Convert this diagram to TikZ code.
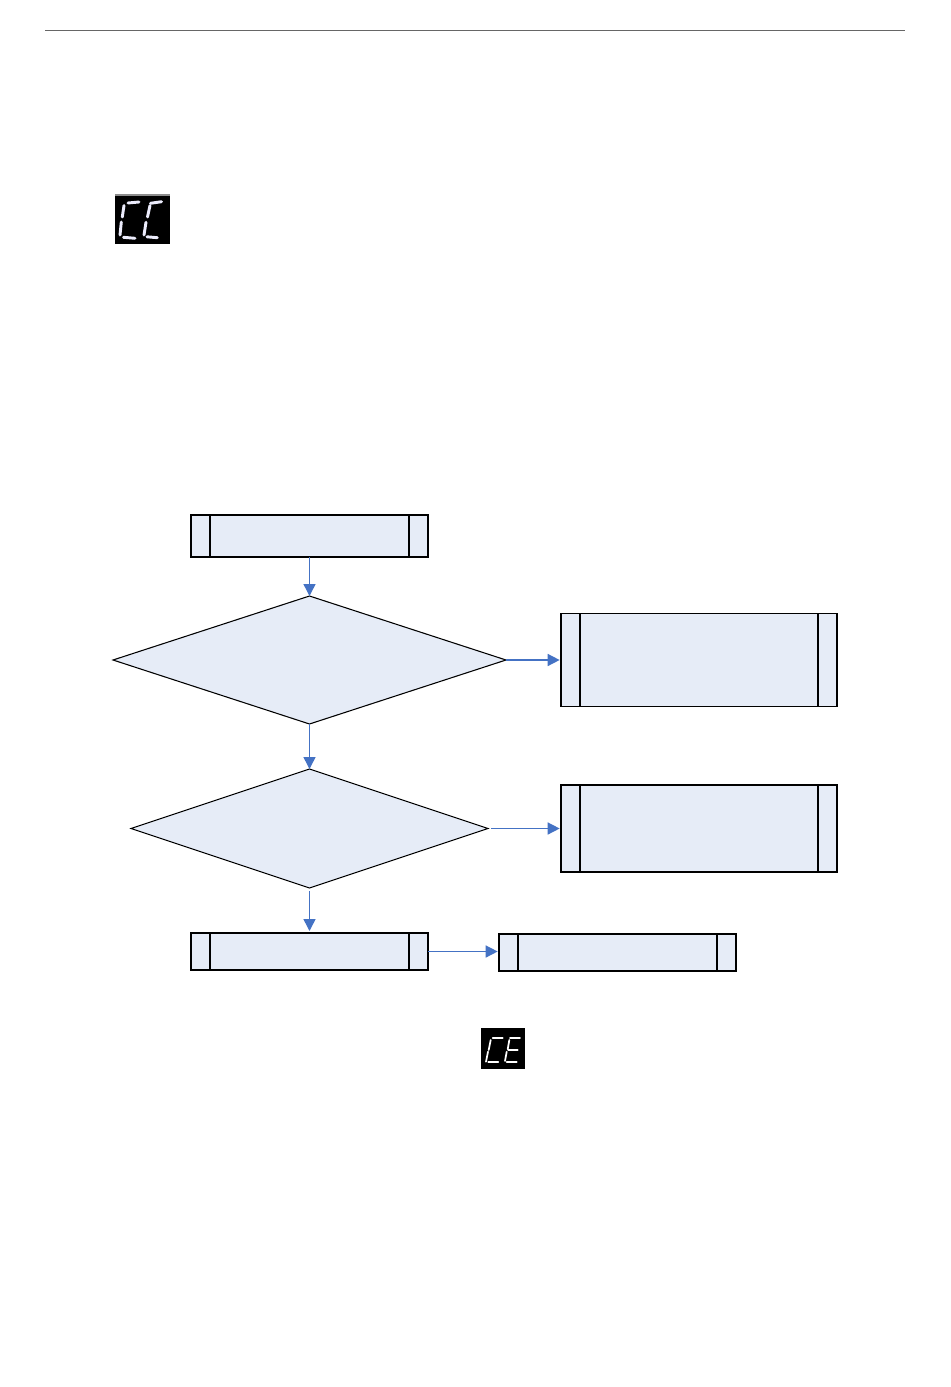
\documentclass[tikz,border=0pt]{standalone}
\usepackage{tikz}
\usetikzlibrary{arrows.meta,positioning,shapes.geometric}
\definecolor{boxfill}{RGB}{230,236,247}
\definecolor{flowblue}{RGB}{68,114,196}
\definecolor{segwhite}{RGB}{236,236,252}

\begin{document}
\begin{tikzpicture}[
  x=0.75pt, y=-0.75pt, >={Triangle[length=9pt,width=9pt]},
  predef/.style={draw, line width=1.1pt, fill=boxfill, outer sep=0pt, inner sep=0pt, minimum width=177.75pt,
    path picture={
      \draw[line width=1.1pt] ([xshift=14.25pt]path picture bounding box.north west) -- ([xshift=14.25pt]path picture bounding box.south west);
      \draw[line width=1.1pt] ([xshift=-14.25pt]path picture bounding box.north east) -- ([xshift=-14.25pt]path picture bounding box.south east);}},
  dec/.style={draw, diamond, line width=0.8pt, fill=boxfill, outer sep=0pt, inner sep=0pt},
  flow/.style={->, color=flowblue, line width=1.1pt},
  lcd/.style={fill=black, outer sep=0pt, inner sep=0pt},
  seg/.style={color=segwhite, line width=2.2pt, line cap=round},
  segthin/.style={color=white, line width=1.3pt, line cap=round}]
\useasboundingbox (0,0) rectangle (950,1387);
\fill[white] (0,0) rectangle (950,1387);
\draw[color=black!60, line width=0.8pt] (45,30.5) -- (905,30.5);

% display icons
\node[lcd, minimum width=41.25pt, minimum height=36.75pt] (iconcc) at (142.5,219.5) {};
\draw[color=black!45, line width=0.8pt] (iconcc.north west) -- (iconcc.north east);
\draw[seg] (128,203) -- (139,202);
\draw[seg] (124,205.5) -- (122.3,217);
\draw[seg] (121.3,222) -- (120,235);
\draw[seg] (123.5,237.3) -- (135,238.3);
\draw[seg] (150.5,203.3) -- (161.5,201.7);
\draw[seg] (150,205.5) -- (147.5,217);
\draw[seg] (146,222.3) -- (144,235);
\draw[seg] (147,236.8) -- (157.3,237.7);
\node[lcd, minimum width=33pt, minimum height=30.75pt] (iconce) at (503,1048.5) {};
\draw[segthin] (492.7,1038.3) -- (502.7,1038.3);
\draw[segthin] (490.7,1040) -- (488.7,1050);
\draw[segthin] (488,1051.7) -- (486,1061.7);
\draw[segthin] (488.3,1062.3) -- (498.3,1062.3);
\draw[segthin] (510,1038.3) -- (520,1038.3);
\draw[segthin] (509.3,1040) -- (507.7,1049.3);
\draw[segthin] (508.3,1050) -- (517.7,1050);
\draw[segthin] (506.7,1051.7) -- (505,1061);
\draw[segthin] (506.7,1062.3) -- (516.7,1062.3);

% flow chart
\node[predef, minimum height=31.5pt] (start) at (309.5,536) {};
\node[dec, below=29.25pt of start, minimum width=294.75pt, minimum height=96pt] (dia1) {};
\node[dec, below=33.75pt of dia1, minimum width=267.75pt, minimum height=89.25pt] (dia2) {};
\node[predef, below=33.75pt of dia2, minimum height=27.75pt] (proc1) {};
\node[predef, right=41.25pt of dia1, minimum width=207pt, minimum height=69.75pt] (res1) {};
\node[predef, right=54.75pt of dia2, minimum width=207pt, minimum height=65.25pt] (res2) {};
\node[predef, right=53.25pt of proc1, yshift=-0.75pt, minimum height=27.75pt] (proc2) {};
\draw[flow] (start.south) -- (dia1.north);
\draw[flow, shorten >=1pt] (dia1.east) -- (res1.west |- dia1.east);
\draw[flow] (dia1.south) -- (dia2.north);
\draw[flow, shorten <=2.25pt, shorten >=1pt] (dia2.east) -- (res2.west |- dia2.east);
\draw[flow, shorten <=2.25pt, shorten >=1.5pt] (dia2.south) -- (proc1.north);
\draw[flow, shorten >=1pt] (proc1.east) -- (proc2.west |- proc1.east);
\end{tikzpicture}
\end{document}
